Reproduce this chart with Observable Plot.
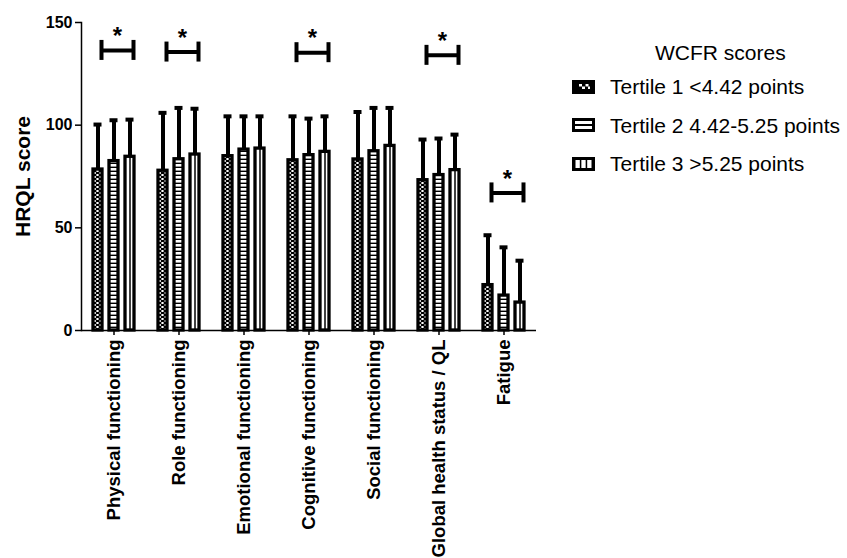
<!DOCTYPE html>
<html><head><meta charset="utf-8">
<script src="https://cdn.jsdelivr.net/npm/d3@7"></script>
<script src="https://cdn.jsdelivr.net/npm/@observablehq/plot@0.6"></script>
<style>
body{margin:0;background:#fff;font-family:"Liberation Sans",Arial,sans-serif;color:#000}
#wrap{position:relative;width:847px;height:558px;overflow:hidden}
.lg{position:absolute;font-size:21px;line-height:25px;white-space:nowrap}
.row{display:flex;align-items:center;height:25px}
.row svg{margin-right:15px}
</style>
</head><body>
<div id="wrap"></div>
<script>
const categories = ["Physical functioning","Role functioning","Emotional functioning","Cognitive functioning","Social functioning","Global health status / QL","Fatigue"];
const tertiles = ["Tertile 1 <4.42 points","Tertile 2 4.42-5.25 points","Tertile 3 >5.25 points"];
const mean1 = [78.4,77.8,84.9,82.9,83.3,73.2,22.1];
const mean2 = [82.5,83.4,88.1,85.4,87.3,75.7,17.0];
const mean3 = [84.6,85.7,88.6,87.0,89.9,78.1,13.6];
const upper1 = [100.3,106.0,104.3,104.3,106.4,93.0,46.4];
const upper2 = [102.4,108.4,104.3,103.2,108.4,93.5,40.5];
const upper3 = [102.7,108.0,104.3,104.3,108.4,95.4,34.0];
const sigCategories = ["Physical functioning","Role functioning","Cognitive functioning","Global health status / QL","Fatigue"];
const sigLevel = [136.4,135.6,135.3,134.0,67.0];
const yTicks = [0,50,100,150];
const yDomain = [0,150];
const legendTitle = "WCFR scores";
const yLabel = "HRQL score";

const means = [mean1, mean2, mean3];
const uppers = [upper1, upper2, upper3];
const rows = categories.flatMap((c,i) => tertiles.map((t,j) => ({category:c, tertile:t, mean:means[j][i], upper:uppers[j][i]})));
const sig = sigCategories.map((c,k) => ({category:c, level:sigLevel[k]}));
const caps = sig.flatMap(s => [{...s, tertile:tertiles[0]}, {...s, tertile:tertiles[2]}]);

const font = "Liberation Sans, Arial, sans-serif";
const plot = Plot.plot({
  width: 847, height: 558,
  marginLeft: 78, marginRight: 309, marginTop: 22, marginBottom: 228,
  style: {fontFamily: font, color: "#000", background: "transparent"},
  fx: {domain: categories, padding: 0},
  x: {domain: tertiles, axis: null, paddingInner: 0.46, paddingOuter: 0.694},
  y: {domain: yDomain},
  color: {domain: tertiles, range: ["url(#pat-t1)","url(#pat-t2)","white"]},
  marks: [
    Plot.barY(rows, {fx:"category", x:"tertile", y:"mean", fill:"tertile", stroke:"black", strokeWidth:3.3}),
    Plot.ruleX(rows.filter(d => d.tertile === tertiles[2]), {fx:"category", x:"tertile", y1:0, y2:"mean", stroke:"black", strokeWidth:1.5}),
    Plot.ruleX(rows, {fx:"category", x:"tertile", y1:"mean", y2:"upper", stroke:"black", strokeWidth:4}),
    Plot.tickY(rows, {fx:"category", x:"tertile", y:"upper", stroke:"black", strokeWidth:4, insetLeft:0.5, insetRight:0.5}),
    Plot.link(sig, {fx:"category", x1:() => tertiles[0], x2:() => tertiles[2], y1:"level", y2:"level", stroke:"black", strokeWidth:4, dx:3.5}),
    Plot.ruleX(caps, {fx:"category", x:"tertile", y1:"level", y2:"level", insetTop:-10, insetBottom:-10, stroke:"black", strokeWidth:4, dx:3.5}),
    Plot.text(sig, {fx:"category", x:() => tertiles[1], y:"level", text:() => "*", dx:3.5, dy:-14, fontSize:24, fontWeight:"bold", fill:"black"}),
    Plot.ruleY([0], {stroke:"black", strokeWidth:1.5}),
    Plot.frame({anchor:"left", facetAnchor:"left", stroke:"black", strokeWidth:1.5}),
    Plot.axisY({ticks:yTicks, tickSize:6, tickPadding:3, fontSize:16, fontWeight:"bold", label:null, strokeWidth:1.5}),
    Plot.text([yLabel], {y:() => d3.mean(yDomain), frameAnchor:"left", textAnchor:"middle", facetAnchor:"left", rotate:-90, dx:-58, fontSize:21, fontWeight:"bold", fill:"black"}),
    Plot.axisFx({anchor:"bottom", tickRotate:-90, tickSize:5, tickPadding:4, fontSize:18.5, fontWeight:"bold", label:null, strokeWidth:1.5})
  ]
});

d3.select(plot).insert("defs", ":first-child").html(`
  <pattern id="pat-t1" patternUnits="userSpaceOnUse" width="6" height="4">
    <rect width="6" height="4" fill="black"/>
    <rect x="0.6" y="0" width="2.2" height="2" fill="white"/>
    <rect x="3.4" y="2" width="2.2" height="2" fill="white"/>
  </pattern>
  <pattern id="pat-t2" patternUnits="userSpaceOnUse" width="6" height="4">
    <rect width="6" height="4" fill="white"/>
    <rect y="2.6" width="6" height="1.4" fill="black"/>
  </pattern>`);

const wrap = document.getElementById("wrap");
wrap.appendChild(plot);

// Legend
const swatches = [
  `<svg width="23" height="14"><rect width="23" height="14" fill="black"/><rect x="7" y="4" width="3" height="2.5" fill="white"/><rect x="10" y="6.5" width="3" height="2.5" fill="white"/><rect x="13.5" y="4" width="3" height="2.5" fill="white"/><rect x="16" y="6.5" width="2" height="2.5" fill="white"/></svg>`,
  `<svg width="23" height="14"><rect width="23" height="14" fill="black"/><rect x="3" y="3" width="17" height="3" fill="white"/><rect x="3" y="8" width="17" height="3" fill="white"/></svg>`,
  `<svg width="23" height="14"><rect width="23" height="14" fill="black"/><rect x="3.5" y="3" width="4.3" height="8" fill="white"/><rect x="9.35" y="3" width="4.3" height="8" fill="white"/><rect x="15.2" y="3" width="4.3" height="8" fill="white"/></svg>`
];
const title = document.createElement("div");
title.className = "lg";
title.style.left = "655px"; title.style.top = "40px";
title.textContent = legendTitle;
wrap.appendChild(title);
const centers = [86.5, 125.3, 163.7];
tertiles.forEach((t,j) => {
  const r = document.createElement("div");
  r.className = "lg row";
  r.style.left = "572px"; r.style.top = (centers[j] - 12.5) + "px";
  r.innerHTML = swatches[j] + `<span>${t.replace("<","&lt;").replace(">","&gt;")}</span>`;
  wrap.appendChild(r);
});
</script>
</body></html>
